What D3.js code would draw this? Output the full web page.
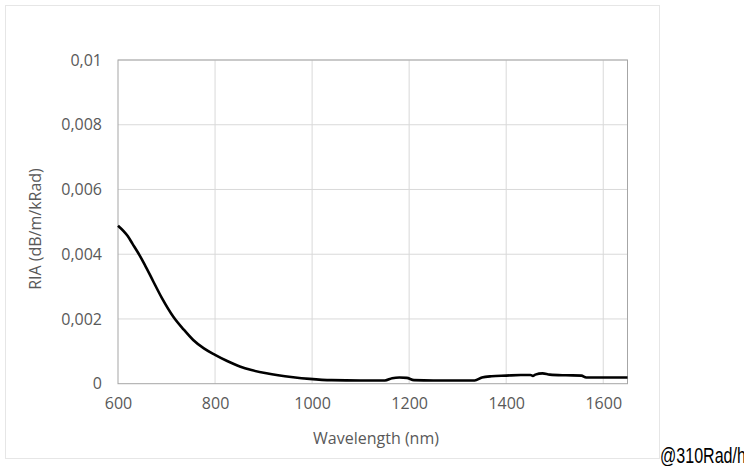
<!DOCTYPE html>
<html>
<head>
<meta charset="utf-8">
<script src="https://cdn.jsdelivr.net/npm/d3@7"></script>
<style>
  body { margin: 0; background: #fff; }
</style>
</head>
<body>
<div id="container"></div>
<script>
// data
const wavelength = [600, 620, 630, 642, 655, 673, 690, 714, 735, 755, 777, 800, 825, 851, 875, 906, 930, 961, 995, 1040, 1100, 1150, 1165, 1180, 1195, 1210, 1250, 1300, 1335, 1350, 1370, 1400, 1430, 1450, 1455, 1460, 1475, 1490, 1523, 1555, 1565, 1600, 1650];
const ria = [0.00488, 0.00456, 0.00432, 0.00403, 0.00368, 0.00315, 0.00266, 0.00207, 0.00168, 0.00135, 0.00109, 0.00089, 0.0007, 0.00053, 0.00042, 0.00032, 0.00026, 0.0002, 0.00015, 0.00011, 0.0001, 0.0001, 0.00017, 0.00019, 0.00018, 0.00011, 0.0001, 0.0001, 0.0001, 0.00019, 0.00023, 0.00025, 0.00027, 0.00027, 0.00024, 0.00028, 0.00032, 0.00028, 0.00026, 0.00025, 0.00019, 0.00019, 0.00019];
const xTicks = [600, 800, 1000, 1200, 1400, 1600];
const yTicks = [0, 0.002, 0.004, 0.006, 0.008, 0.01];
const xTitle = "Wavelength (nm)";
const yTitle = "RIA (dB/m/kRad)";
const watermark = "@310Rad/h";

// svg size
const width = 744;
const height = 466;

// plot area
const marginLeft = 118;
const marginTop = 60;
const plotRight = 627.5;
const plotBottom = 383.7;

const fontFamily = "'Open Sans', 'Noto Sans', sans-serif";
const fontSize = "16px";
const textColor = "#595959";
const gridColor = "#d9d9d9";
const axisColor = "#a6a6a6";

const svg = d3.select("#container").append("svg")
    .attr("width", width)
    .attr("height", height);

// chart frame
svg.append("rect")
    .attr("x", 5.5).attr("y", 5.5)
    .attr("width", 654).attr("height", 453)
    .attr("fill", "#fff")
    .attr("stroke", "#e6e6e6");

const x = d3.scaleLinear().domain([600, 1650]).range([marginLeft, plotRight]);
const y = d3.scaleLinear().domain([0, 0.01]).range([plotBottom, marginTop]);

// gridlines
svg.append("g").selectAll("line")
    .data(xTicks.slice(1))
    .join("line")
    .attr("x1", d => x(d)).attr("x2", d => x(d))
    .attr("y1", marginTop).attr("y2", plotBottom)
    .attr("stroke", gridColor);

svg.append("g").selectAll("line")
    .data(yTicks.slice(1))
    .join("line")
    .attr("x1", marginLeft).attr("x2", plotRight)
    .attr("y1", d => y(d)).attr("y2", d => y(d))
    .attr("stroke", gridColor);

// plot border
svg.append("rect")
    .attr("x", marginLeft).attr("y", marginTop)
    .attr("width", plotRight - marginLeft).attr("height", plotBottom - marginTop)
    .attr("fill", "none")
    .attr("stroke", axisColor)
    .attr("stroke-width", 1);

// axes, tick labels only
const fmtY = d => d === 0 ? "0" : String(+d.toFixed(3)).replace(".", ",");

const xAxis = svg.append("g")
    .attr("transform", `translate(0,${plotBottom})`)
    .call(d3.axisBottom(x).tickValues(xTicks).tickFormat(d => String(d)).tickSize(0).tickPadding(14));
xAxis.select(".domain").remove();
xAxis.selectAll("text")
    .attr("fill", textColor)
    .attr("font-family", fontFamily)
    .attr("font-size", fontSize);

const yAxis = svg.append("g")
    .attr("transform", `translate(${marginLeft},0)`)
    .call(d3.axisLeft(y).tickValues(yTicks).tickFormat(fmtY).tickSize(0).tickPadding(16));
yAxis.select(".domain").remove();
yAxis.selectAll("text")
    .attr("fill", textColor)
    .attr("font-family", fontFamily)
    .attr("font-size", fontSize);

// line
const line = d3.line()
    .x((d, i) => x(wavelength[i]))
    .y(d => y(d))
    .curve(d3.curveMonotoneX);

svg.append("path")
    .datum(ria)
    .attr("d", line)
    .attr("fill", "none")
    .attr("stroke", "#000")
    .attr("stroke-width", 2.6)
    .attr("stroke-linejoin", "round");

// axis titles
svg.append("text")
    .attr("x", 376)
    .attr("y", 443.5)
    .attr("text-anchor", "middle")
    .attr("fill", textColor)
    .attr("font-family", fontFamily)
    .attr("font-size", fontSize)
    .text(xTitle);

svg.append("text")
    .attr("transform", `translate(41,229) rotate(-90)`)
    .attr("text-anchor", "middle")
    .attr("fill", textColor)
    .attr("font-family", fontFamily)
    .attr("font-size", fontSize)
    .text(yTitle);

// watermark, cut at the right edge as in the source image
svg.append("text")
    .attr("transform", "translate(660,462.7) scale(0.73,1)")
    .attr("fill", "#000")
    .attr("font-family", "'Liberation Sans', Arial, sans-serif")
    .attr("font-size", "22px")
    .text(watermark);
</script>
</body>
</html>
